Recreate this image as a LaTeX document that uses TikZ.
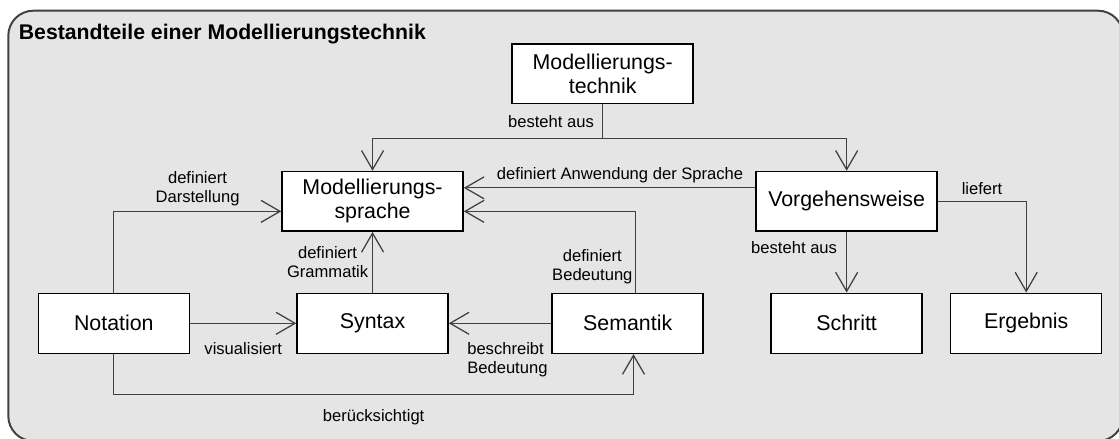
\documentclass[tikz,border=0pt]{standalone}
\usepackage{fontspec}
\setmainfont{Liberation Sans}
\usetikzlibrary{positioning, arrows.meta}

\begin{document}
\begin{tikzpicture}[
    x=0.25mm, y=-0.25mm,
    node distance = 15.15mm and 6mm,
    box/.style = {rectangle, draw=black, line width=1.1pt, fill=white, align=center, minimum width=37.75mm, minimum height=15mm, inner sep=1pt, font=\fontsize{15.2}{17.2}\selectfont},
    wbox/.style = {box, minimum width=45.25mm, minimum height=14.9mm},
    lbl/.style = {inner sep=1pt, align=center, font=\fontsize{11.8}{13.6}\selectfont},
    arrow/.style = {-{Straight Barb[length=4.75mm, width=5.5mm]}, line width=0.9pt, draw=black!75}
]
    \useasboundingbox (0,0) rectangle (1119,438);
    \draw[line width=1.4pt, draw=black!75, fill=black!10, rounded corners=6.25mm] (8.3,10.7) rectangle (1123,441);
    \node[anchor=base west, inner sep=0pt, font=\fontsize{15.1}{17}\selectfont\bfseries] (TIT) at (18.6,39) {Bestandteile einer Modellierungstechnik};

    % bottom row
    \node[box] (NOT) at (113.8,323.3) {Notation};
    \node[box, right=26.55mm of NOT] (SYN) {Syntax};
    \node[box, right=25.65mm of SYN] (SEM) {Semantik};
    \node[box, right=16.6mm of SEM] (SCH) {Schritt};
    \node[box, right=6.75mm of SCH] (ERG) {Ergebnis};

    \node[wbox, above=of SYN] (SPR) {Modellierungs-\\sprache};
    \node[wbox, above=of SCH] (VOR) {Vorgehensweise};
    \node[wbox, above right=16.65mm and 11.9mm of SPR] (TEC) {Modellierungs-\\technik};

    \draw[arrow] (TEC.south) -- node[lbl, left=1.7mm]{besteht aus} ++(0,34.3) coordinate (fork) -| (SPR.north);
    \draw[arrow] (fork) -| (VOR.north);

    \draw[arrow] ([yshift=3.375mm]VOR.west) -- node[lbl, above=0.6mm, pos=0.464]{definiert Anwendung der Sprache} ([yshift=3.375mm]SPR.east);
    \draw[arrow] (NOT.north) |- node[lbl, above=0.75mm, pos=0.75]{definiert\\Darstellung} ([yshift=-2.5mm]SPR.west);
    \draw[arrow] (SYN.north) -- node[lbl, left=0.6mm]{definiert\\Grammatik} (SPR.south);
    \draw[arrow] ([xshift=1.95mm]SEM.north) |- node[lbl, left=0.25mm, pos=0.16]{definiert\\Bedeutung} ([yshift=-2.5mm]SPR.east);

    \draw[arrow] (NOT) -- node[lbl, below=4.25mm]{visualisiert} (SYN);
    \draw[arrow] (SEM) -- node[lbl, anchor=north west, align=left, pos=0.84, yshift=-4.25mm]{beschreibt\\Bedeutung} (SYN);
    \draw[arrow] (NOT.south) -- ++(0,40.7) -| node[lbl, below=3.1mm, pos=0.25]{berücksichtigt} ([xshift=1.45mm]SEM.south);

    \draw[arrow] (VOR.south) -- node[lbl, left=1.9mm, pos=0.25]{besteht aus} (SCH.north);
    \draw[arrow] (VOR.east) -| node[lbl, above=1.25mm, pos=0.25]{liefert} (ERG.north);
\end{tikzpicture}
\end{document}
